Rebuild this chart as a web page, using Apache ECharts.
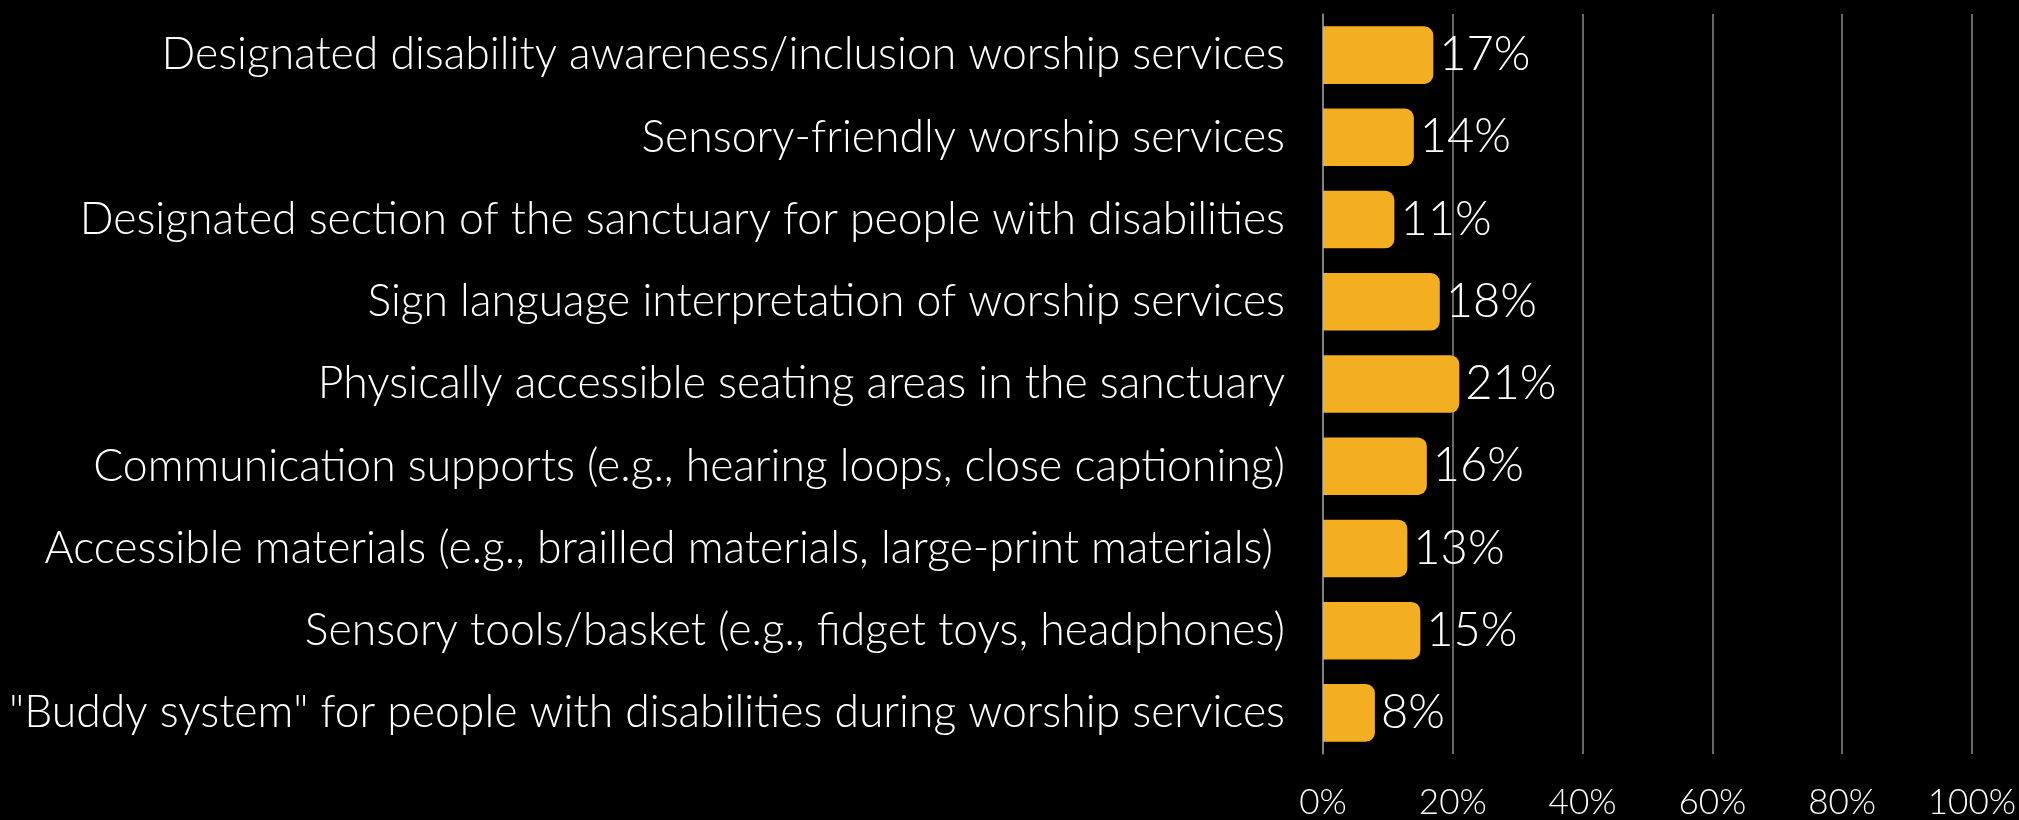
<!DOCTYPE html>
<html>
<head>
<meta charset="utf-8">
<script src="https://cdn.jsdelivr.net/npm/echarts@6/dist/echarts.min.js"></script>
<style>
html,body{margin:0;padding:0;background:#000;}
#chart{width:2019px;height:820px;}
</style>
</head>
<body>
<div id="chart"></div>
<script>
const categories = [
  "Designated disability awareness/inclusion worship services",
  "Sensory-friendly worship services",
  "Designated section of the sanctuary for people with disabilities",
  "Sign language interpretation of worship services",
  "Physically accessible seating areas in the sanctuary",
  "Communication supports (e.g., hearing loops, close captioning)",
  "Accessible materials (e.g., brailled materials, large-print materials) ",
  "Sensory tools/basket (e.g., fidget toys, headphones)",
  "\"Buddy system\" for people with disabilities during worship services"
];
const values = [17, 14, 11, 18, 21, 16, 13, 15, 8];
const xTicks = [0, 20, 40, 60, 80, 100];

const FONT = "Lato";
const chart = echarts.init(document.getElementById('chart'), null, {renderer: 'canvas'});
chart.setOption({
  backgroundColor: '#000000',
  animation: false,
  grid: {left: 1323, right: 45, top: 14, bottom: 60, containLabel: false},
  xAxis: {
    type: 'value',
    min: xTicks[0],
    max: xTicks[xTicks.length - 1],
    interval: 20,
    axisLine: {show: false},
    axisTick: {show: false},
    splitLine: {show: true, lineStyle: {color: '#8a8a8a', width: 1.5}},
    axisLabel: {
      color: '#ffffff',
      fontFamily: FONT,
      fontWeight: 300,
      fontSize: 35,
      margin: 31,
      verticalAlign: 'top',
      formatter: v => v + '%'
    }
  },
  yAxis: {
    type: 'category',
    inverse: true,
    data: categories,
    axisLine: {show: true, lineStyle: {color: '#8a8a8a', width: 1.5}},
    axisTick: {show: false},
    axisLabel: {
      color: '#ffffff',
      fontFamily: FONT,
      fontWeight: 300,
      fontSize: 44.5,
      margin: 38
    }
  },
  series: [{
    type: 'bar',
    data: values,
    barCategoryGap: '30%',
    itemStyle: {color: '#F4AE22', borderRadius: [0, 9, 9, 0]},
    label: {
      show: true,
      position: 'right',
      distance: 6,
      color: '#ffffff',
      fontFamily: FONT,
      fontWeight: 300,
      fontSize: 47,
      formatter: p => p.value + '%'
    }
  }]
});
</script>
</body>
</html>
